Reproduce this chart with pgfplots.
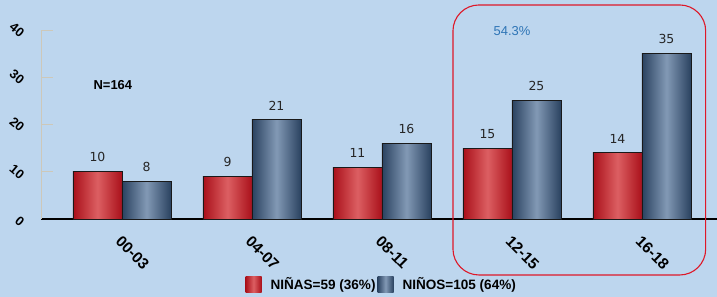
\documentclass[border=0pt]{standalone}
\usepackage{pgfplots}
\pgfplotsset{compat=1.18}
\usepackage{fontspec}
\setmainfont{Liberation Sans}
\newfontfamily\dejavu{DejaVu Sans}
\definecolor{bg}{RGB}{189,214,238}
\definecolor{redE}{RGB}{170,16,26}
\definecolor{redM}{RGB}{220,95,98}
\definecolor{bluE}{RGB}{42,66,96}
\definecolor{bluM}{RGB}{130,153,181}
\definecolor{yax}{RGB}{205,200,185}
\definecolor{boxred}{RGB}{222,24,40}
\definecolor{pctblue}{RGB}{46,117,182}
\begin{document}
\begin{tikzpicture}
\fill[bg] (0,0) rectangle (717bp,297bp);
\begin{axis}[
  at={(41bp,78bp)}, anchor=south west,
  scale only axis, width=676bp, height=189bp,
  xmin=-0.623, xmax=4.577, ymin=0, ymax=40,
  /pgf/number format/assume math mode=true,
  axis x line*=bottom, axis y line*=left,
  x axis line style={black, line width=1.1pt},
  y axis line style={yax, line width=1pt},
  ytick={0,10,20,30,40},
  ytick style={yax, line width=1pt},
  major tick length=12bp,
  ytick pos=left,
  yticklabel style={font=\fontsize{13}{13}\selectfont\bfseries, xshift=-15.7bp, yshift=-6.8bp, rotate=-40, anchor=east},
  xtick={0,1,2,3,4},
  xticklabels={00-03,04-07,08-11,12-15,16-18},
  xtick style={draw=none},
  minor xtick={0.5,1.5,2.5,3.5},
  minor tick length=12bp,
  minor x tick style={yax, line width=1pt},
  xticklabel style={font=\fontsize{15.5}{15.5}\selectfont\bfseries, xshift=0.5bp, yshift=1bp, rotate=-45, anchor=north west},
  ybar, bar width=49bp,
  redbar/.style={draw=black!90, line width=0.8pt, left color=redE, right color=redE, middle color=redM, bar shift=-24.5bp},
  bluebar/.style={draw=black!90, line width=0.8pt, left color=bluE, right color=bluE, middle color=bluM, bar shift=24.5bp},
  clip=false,
  nodes near coords,
  every node near coord/.append style={font=\dejavu\fontsize{12.5}{12.5}\selectfont, text=black!85, yshift=6bp},
  legend style={at={(0.504,-0.344)}, anchor=center, draw=none, fill=none,
    legend columns=2, font=\fontsize{13.6}{13.6}\selectfont\bfseries,
    /tikz/every odd column/.append style={column sep=7bp},
    /tikz/every even column/.append style={column sep=0bp}},
  legend image code/.code={\path[#1, draw=none] (0bp,-8bp) rectangle (16bp,8bp);},
]
\addplot[redbar] coordinates {(0,10)};
\addplot[bluebar] coordinates {(0,8)};
\addplot[redbar, forget plot] coordinates {(1,9)};
\addplot[redbar, forget plot] coordinates {(2,11)};
\addplot[redbar, forget plot] coordinates {(3,15)};
\addplot[redbar, forget plot] coordinates {(4,14)};
\addplot[bluebar, forget plot] coordinates {(1,21)};
\addplot[bluebar, forget plot] coordinates {(2,16)};
\addplot[bluebar, forget plot] coordinates {(3,25)};
\addplot[bluebar, forget plot] coordinates {(4,35)};
\legend{NIÑAS=59 (36\%), NIÑOS=105 (64\%)}
\node[font=\fontsize{13}{13}\selectfont\bfseries] at (axis cs:-0.07,28.4) {N=164};
\node[font=\fontsize{13}{13}\selectfont, text=pctblue] at (axis cs:3,39.8) {54.3\%};
\draw[boxred, line width=1.1pt, rounded corners=26bp] (axis cs:2.546,45.3) rectangle (axis cs:4.49,-11.85);
\end{axis}
\pgfresetboundingbox
\path (0,0) rectangle (717bp,297bp);
\end{tikzpicture}
\end{document}
